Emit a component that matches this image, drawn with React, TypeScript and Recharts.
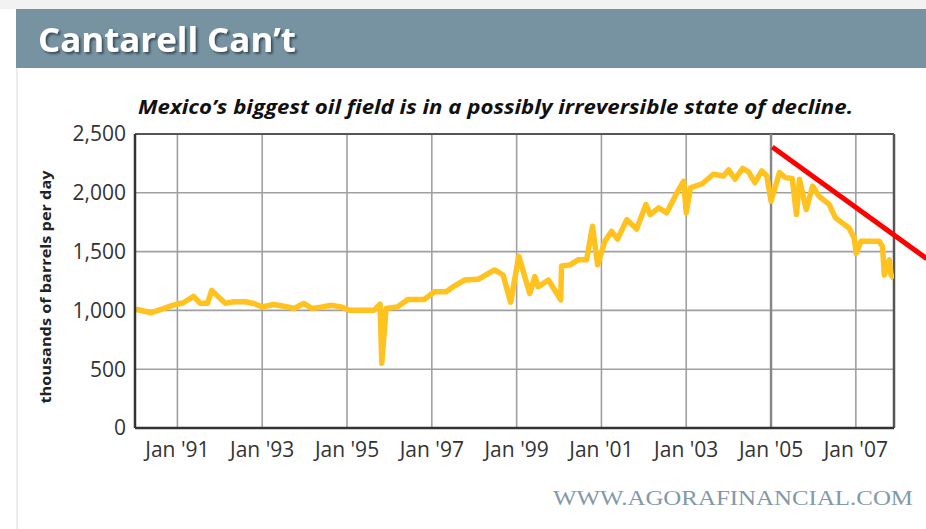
import React from "react";
import { LineChart, Line, XAxis, YAxis, CartesianGrid, ReferenceLine } from "recharts";

// decimal year of each reading
const dates = [
  1990.02, 1990.38, 1990.67, 1990.9, 1991.14, 1991.38, 1991.54, 1991.71, 1991.81, 1991.97,
  1992.13, 1992.33, 1992.6, 1992.8, 1993.0, 1993.27, 1993.51, 1993.75, 1993.98, 1994.18,
  1994.42, 1994.62, 1994.85, 1995.05, 1995.64, 1995.78, 1995.82, 1995.92, 1996.19, 1996.43,
  1996.82, 1997.06, 1997.34, 1997.53, 1997.77, 1998.09, 1998.48, 1998.68, 1998.86, 1999.05,
  1999.31, 1999.43, 1999.51, 1999.75, 2000.04, 2000.06, 2000.26, 2000.45, 2000.65, 2000.79,
  2000.91, 2001.08, 2001.24, 2001.38, 2001.6, 2001.83, 2002.05, 2002.15, 2002.35, 2002.54,
  2002.78, 2002.94, 2003.0, 2003.1, 2003.37, 2003.64, 2003.88, 2004.0, 2004.15, 2004.33,
  2004.47, 2004.62, 2004.78, 2004.9, 2005.0, 2005.2, 2005.34, 2005.5, 2005.6, 2005.67,
  2005.83, 2005.98, 2006.13, 2006.37, 2006.52, 2006.84, 2006.96, 2007.01, 2007.12, 2007.55,
  2007.63, 2007.67, 2007.79, 2007.83, 2007.9,
];

// thousands of barrels per day
const barrels = [
  1010, 980, 1015, 1045, 1065, 1120, 1060, 1060, 1170, 1115,
  1060, 1073, 1073, 1059, 1030, 1050, 1036, 1016, 1059, 1016,
  1030, 1044, 1030, 1002, 1002, 1053, 550, 1016, 1030, 1093,
  1093, 1158, 1158, 1207, 1258, 1264, 1344, 1301, 1070, 1460,
  1145, 1287, 1201, 1258, 1090, 1378, 1387, 1430, 1430, 1715,
  1387, 1587, 1672, 1607, 1772, 1692, 1900, 1815, 1872, 1830,
  2000, 2100, 1830, 2043, 2075, 2158, 2143, 2195, 2115, 2207,
  2178, 2086, 2186, 2143, 1929, 2172, 2129, 2121, 1815, 2115,
  1858, 2057, 1972, 1901, 1787, 1701, 1615, 1487, 1587, 1587,
  1544, 1301, 1430, 1301, 1273,
];

const xTicks = [1991, 1993, 1995, 1997, 1999, 2001, 2003, 2005, 2007];
const xTickLabels = ["Jan '91", "Jan '93", "Jan '95", "Jan '97", "Jan '99", "Jan '01", "Jan '03", "Jan '05", "Jan '07"];
const yTicks = [0, 500, 1000, 1500, 2000, 2500];

// hand-drawn trend arrow
const trendLine = [
  { x: 2005.03, y: 2389 },
  { x: 2008.67, y: 1440 },
];

const data = dates.map((t, i) => ({ t, v: barrels[i] }));

const tickFont = { fontFamily: "'Open Sans', sans-serif", fontSize: 21, fill: "#333" };

export default function App() {
  return (
    <div style={{ position: "absolute", left: 0, top: 0, width: 926, height: 529, background: "#fff" }}>
      <svg width={926} height={529} style={{ position: "absolute", left: 0, top: 0 }}>
        <defs>
          <filter id="shadow" x="-10%" y="-30%" width="120%" height="160%">
            <feDropShadow dx="2" dy="2" stdDeviation="1" floodColor="#2a3a44" floodOpacity="0.8" />
          </filter>
        </defs>
        <rect x={0} y={0} width={926} height={9} fill="#f2f2f2" />
        <rect x={16} y={9} width={910} height={59} fill="#7793a2" />
        <line x1={17} y1={68} x2={17} y2={529} stroke="#ececec" strokeWidth={2} />
        <text
          x={38} y={52} fill="#fff" fontFamily="'Open Sans', sans-serif" fontWeight="bold" fontSize={34}
          textLength={258} lengthAdjust="spacingAndGlyphs" filter="url(#shadow)"
        >
          Cantarell Can’t
        </text>
        <text
          x={138} y={114} fill="#111" fontFamily="'Open Sans', sans-serif" fontWeight="bold" fontStyle="italic"
          fontSize={20} textLength={715} lengthAdjust="spacingAndGlyphs"
        >
          Mexico’s biggest oil field is in a possibly irreversible state of decline.
        </text>
        <text
          x={45} y={287} transform="rotate(-90 45 287)" textAnchor="middle" dominantBaseline="central"
          fill="#222" fontFamily="'Open Sans', sans-serif" fontWeight="bold" fontSize={15}
          textLength={233} lengthAdjust="spacingAndGlyphs"
        >
          thousands of barrels per day
        </text>
        <text
          x={553} y={505} fill="#8299a8" fontFamily="'Liberation Serif', serif" fontSize={20}
          textLength={360} lengthAdjust="spacingAndGlyphs"
        >
          WWW.AGORAFINANCIAL.COM
        </text>
      </svg>
      <div style={{ position: "absolute", left: 0, top: 0 }}>
        <LineChart width={926} height={529} data={data} margin={{ top: 134, right: 32, bottom: 61, left: 60 }}>
          <CartesianGrid stroke="#a0a0a0" strokeWidth={1.6} />
          <XAxis
            type="number" dataKey="t" domain={[1990, 2007.9]} ticks={xTicks} allowDataOverflow
            tickFormatter={(v) => xTickLabels[xTicks.indexOf(v)] ?? ""}
            tick={tickFont} tickLine={false} tickSize={0} tickMargin={14} height={40}
            axisLine={{ stroke: "#333", strokeWidth: 2.5 }} interval={0}
          />
          <YAxis
            domain={[0, 2500]} ticks={yTicks} tickFormatter={(v) => v.toLocaleString("en-US")}
            tick={tickFont} tickLine={false} tickSize={0} tickMargin={9} width={75}
            axisLine={{ stroke: "#333", strokeWidth: 2.5 }} interval={0}
          />
          <ReferenceLine y={2500} stroke="#555" strokeWidth={2} />
          <ReferenceLine x={2007.9} stroke="#555" strokeWidth={2.5} />
          <ReferenceLine x={2005} stroke="#888" strokeWidth={2.5} />
          <Line
            type="linear" dataKey="v" stroke="#ffc21f" strokeWidth={5.5} dot={false}
            strokeLinejoin="round" isAnimationActive={false}
          />
          <ReferenceLine segment={trendLine} stroke="#ff0000" strokeWidth={5} ifOverflow="visible" />
        </LineChart>
      </div>
    </div>
  );
}
